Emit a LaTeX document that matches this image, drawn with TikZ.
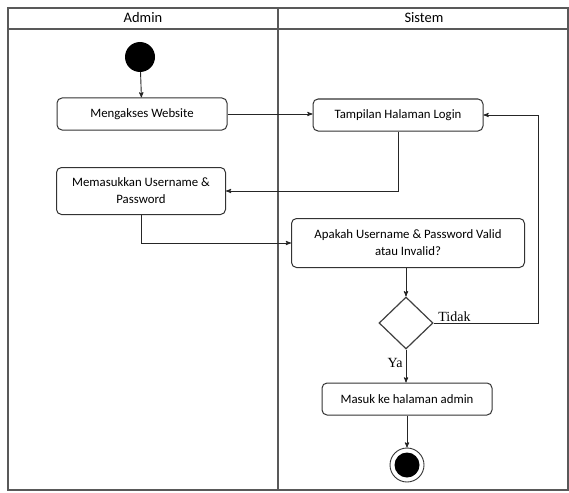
\documentclass[tikz,border=0pt]{standalone}
\usepackage{fontspec}
\setmainfont{Carlito}
\newfontfamily\serifyn{Liberation Serif}
\usetikzlibrary{positioning}
\usetikzlibrary{arrows}
\usetikzlibrary{calc}
\usetikzlibrary{shapes.geometric}
\tikzset{act/.style={draw=black!80,line width=1pt,rounded corners=5pt,align=center,font=\fontsize{12.8}{17}\selectfont,inner sep=2pt}}
\tikzset{lane/.style={draw=black!65,line width=1.3pt}}
\tikzset{flow/.style={->,line width=0.9pt,draw=black!85}}
\tikzset{lbl/.style={font=\serifyn\fontsize{14}{14}\selectfont,inner sep=1pt}}
\tikzset{>=stealth'}

\begin{document}
\begin{tikzpicture}[x=1pt,y=-1pt]
\useasboundingbox (0,0) rectangle (569,492);
\fill[white] (0,0) rectangle (569,492);

% swimlanes
\draw[lane] (8,8) rectangle (568,490);
\draw[lane] (8,29) -- (568,29);
\draw[lane] (278,8) -- (278,490);
\node (admin) at (143,18) {\fontsize{14.5}{15}\selectfont Admin};
\node (sistem) at (424,18) {\fontsize{14.5}{15}\selectfont Sistem};

\node (start) at (140,57) [circle,fill=black,minimum size=30pt,inner sep=0pt] {};
\node (web) at (142,114) [act,minimum width=170pt,minimum height=32pt] {Mengakses Website};
\node (login) at (398,115) [act,minimum width=170pt,minimum height=32pt] {Tampilan Halaman Login};
\node (input) at (141,191) [act,minimum width=169pt,minimum height=47pt] {Memasukkan Username \&\\Password};
\node (cek) at (408,243) [act,minimum width=233pt,minimum height=49pt] {Apakah Username \& Password Valid\\atau Invalid?};
\node (dec) at (406,323) [diamond,draw=black!75,line width=1.2pt,minimum width=54pt,minimum height=52pt,inner sep=0pt] {};
\node (masuk) at (407,399) [act,minimum width=170pt,minimum height=32pt] {Masuk ke halaman admin};
\node (end) at (407,465) [circle,draw=black!80,line width=0.9pt,minimum size=34pt,inner sep=0pt] {};
\fill (end.center) circle (12.5);
\coordinate (back) at (538,321);

\draw[flow] (start) -- (web);
\draw[flow] (web.east) -- (web.east -| login.west);
\draw[flow] (login.south) |- (input.east);
\draw[flow] (input.south) |- (cek.west);
\draw[flow] (cek.south -| dec.north) -- (dec.north);
\draw[flow] (dec.east) -- node[lbl,above,pos=0.2] {Tidak} (dec.east -| back) |- (login.east);
\draw[flow] (dec.south) -- node[lbl,left=2pt,pos=0.4] {Ya} (dec.south |- masuk.north);
\draw[flow] (masuk.south) -- (end.north);
\end{tikzpicture}
\end{document}
